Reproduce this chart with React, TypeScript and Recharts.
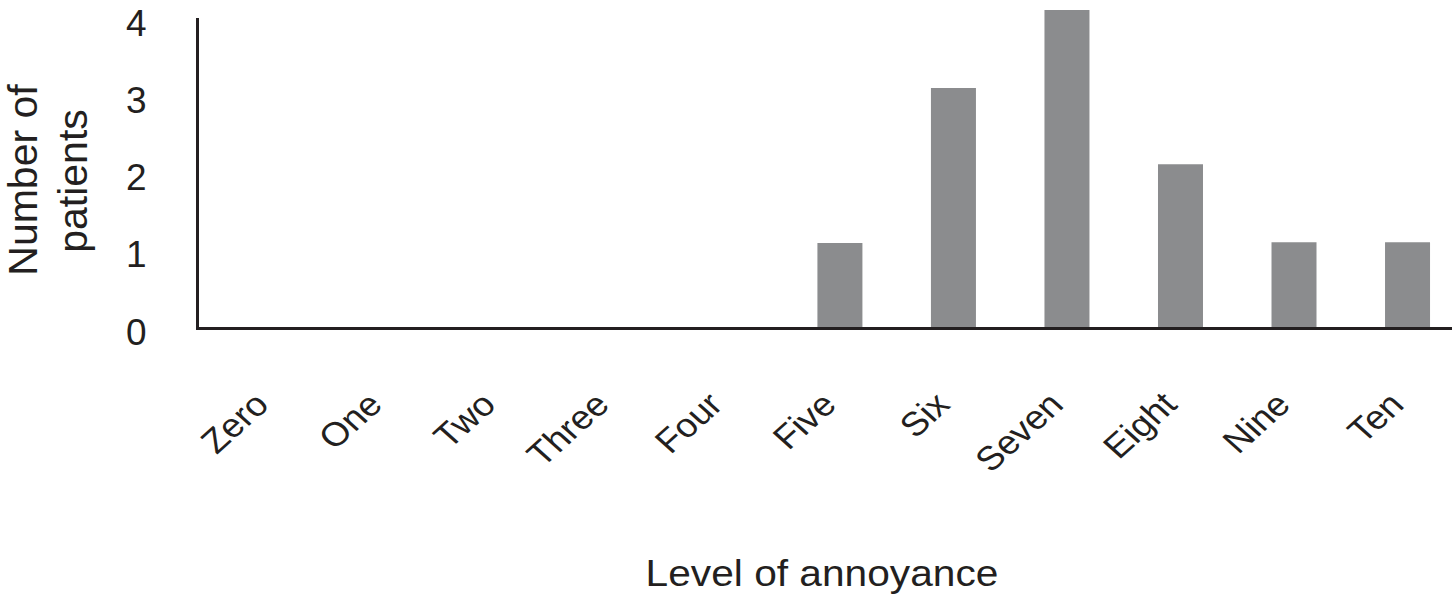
import React from 'react';
import { BarChart, Bar, XAxis, YAxis } from 'recharts';

const categories = ['Zero', 'One', 'Two', 'Three', 'Four', 'Five', 'Six', 'Seven', 'Eight', 'Nine', 'Ten'];
const patients = [0, 0, 0, 0, 0, 1.11, 3.12, 4.13, 2.13, 1.12, 1.12];
const yTicks = [0, 1, 2, 3, 4];

const data = categories.map((c, i) => ({ level: c, patients: patients[i] }));

const FONT = '"Liberation Sans", Arial, Helvetica, sans-serif';
const INK = '#231f20';

const XTick = (props: any) => {
  const { x, y, payload } = props;
  return (
    <g transform={`translate(${x - 2},${y + 78}) scale(1.11,1) rotate(-45)`}>
      <text x={0} y={0} textAnchor="end" fontSize={33.5} fontFamily={FONT} fill={INK}>
        {payload.value}
      </text>
    </g>
  );
};

const YTick = (props: any) => {
  const { x, y, payload } = props;
  return (
    <text x={x - 51} y={y + 16} textAnchor="end" fontSize={37} fontFamily={FONT} fill={INK}>
      {payload.value}
    </text>
  );
};

const YLabel = () => (
  <g fontFamily={FONT} fontSize={41} fill={INK}>
    <text transform="translate(37,180) rotate(-90)" textAnchor="middle">Number of</text>
    <text transform="translate(86.5,181) rotate(-90)" textAnchor="middle">patients</text>
  </g>
);

const XLabel = () => (
  <g transform="translate(822,586) scale(1.13,1)">
    <text x={0} y={0} textAnchor="middle" fontFamily={FONT} fontSize={36} fill={INK}>
      Level of annoyance
    </text>
  </g>
);

export default function App() {
  return (
    <div style={{ position: 'absolute', left: 0, top: 0, width: 1452, height: 608, overflow: 'hidden', background: '#fff' }}>
      <BarChart
        width={1470}
        height={608}
        data={data}
        margin={{ top: 10, right: 5.5, bottom: 0, left: 0 }}
        barCategoryGap="30%"
      >
        <XAxis
          dataKey="level"
          height={279.5}
          padding={{ left: 18.25, right: 0 }}
          tickLine={false}
          tickSize={0}
          tickMargin={0}
          interval={0}
          axisLine={{ stroke: INK, strokeWidth: 3, strokeLinecap: 'square' }}
          tick={<XTick />}
          label={<XLabel />}
        />
        <YAxis
          type="number"
          domain={[0, 4.13]}
          ticks={yTicks}
          width={197.5}
          tickLine={false}
          tickSize={0}
          tickMargin={0}
          interval={0}
          axisLine={{ stroke: INK, strokeWidth: 3, strokeDasharray: '0 8 1000' }}
          tick={<YTick />}
          label={<YLabel />}
        />
        <Bar dataKey="patients" fill="#8b8c8e" isAnimationActive={false} />
      </BarChart>
    </div>
  );
}
